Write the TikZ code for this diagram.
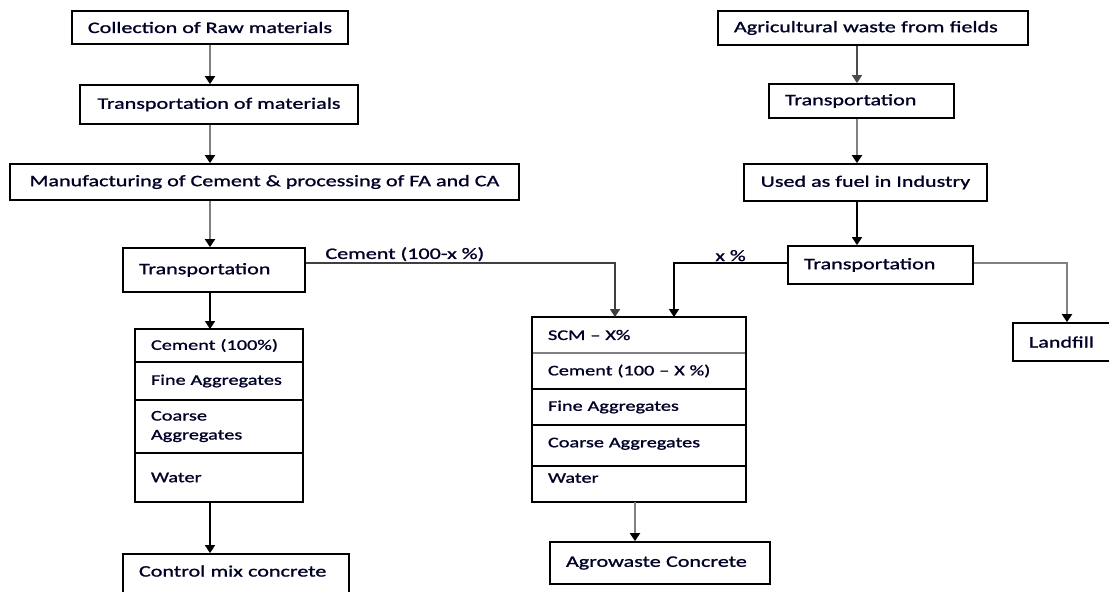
\documentclass[tikz,border=0pt]{standalone}
\usepackage{fontspec}
\setmainfont{Carlito}[FakeStretch=1.38, FakeBold=1.2]
\usetikzlibrary{arrows.meta,positioning}

\begin{document}
\begin{tikzpicture}[x=1pt, y=-1pt,
	box/.style={draw, line width=1.8pt, inner xsep=16pt, inner ysep=0pt, align=left, text=black!85!blue, font=\fontsize{16}{19}\selectfont},
	row/.style={box, outer sep=0pt, anchor=north, font=\fontsize{14.7}{19}\selectfont},
	arr/.style={line width=1.7pt, -{Triangle[width=10pt,length=8pt]}},
	garr/.style={arr, line width=2.2pt, draw=gray, -{Triangle[width=10pt,length=8pt,color=black]}},
	lbl/.style={font=\fontsize{16}{19}\selectfont, text=black!85!blue, inner sep=1pt}]
	\useasboundingbox (0,0) rectangle (1109,592);
	\clip (0,0) rectangle (1109,592);
	
	% Filiera del calcestruzzo di controllo
	\node[box, minimum width=276pt, minimum height=33pt] (raw) at (210,27.5) {Collection of Raw materials};
	\node[box, minimum width=278pt, minimum height=39pt] (tmat) at (219,104.5) {Transportation of materials};
	\node[box, minimum width=509pt, minimum height=36pt] (manuf) at (264.5,182) {Manufacturing of Cement \& processing of FA and CA};
	\node[box, text width=150pt, minimum height=44pt] (trL) at (214,270) {Transportation};
	
	% Miscela di controllo
	\node[row, text width=136pt, minimum height=33pt] (cemL) at (219,329) {Cement (100\%)};
	\node[row, text width=136pt, minimum height=38pt, below=0pt of cemL] (fineL) {Fine Aggregates};
	\node[row, text width=136pt, minimum height=53pt, below=0pt of fineL] (coarseL) {Coarse\\Aggregates};
	\node[row, text width=136pt, minimum height=49pt, below=0pt of coarseL] (waterL) {Water};
	\node[box, text width=194pt, minimum height=46pt, text depth=12pt] (ctrl) at (236,577) {Control mix concrete};
	
	% Miscela con scarti agricoli
	\node[row, text width=182pt, minimum height=36pt] (scm) at (639,317) {SCM -- X\%};
	\node[row, text width=182pt, minimum height=36pt, below=0pt of scm] (cemM) {Cement (100 -- X \%)};
	\node[row, text width=182pt, minimum height=36pt, below=0pt of cemM] (fineM) {Fine Aggregates};
	\node[row, text width=182pt, minimum height=41pt, below=0pt of fineM, text depth=6pt] (coarseM) {Coarse Aggregates};
	\node[row, text width=182pt, minimum height=36pt, below=0pt of coarseM, text depth=12pt] (waterM) {Water};
	\draw[gray, line width=1.8pt, shorten <=1pt, shorten >=1pt] (scm.south west) -- (scm.south east);
	\node[box, text width=188pt, minimum height=42pt] (agro) at (660,563) {Agrowaste Concrete};
	
	% Filiera degli scarti agricoli
	\coordinate (colR) at (857,0);
	\node[box, text width=278pt, minimum height=34pt] (agri) at (873,28) {Agricultural waste from fields};
	\node[box, text width=153pt, minimum height=34pt] (trR1) at (861.5,101) {Transportation};
	\node[box, minimum width=243pt, minimum height=37pt] (fuel) at (865.5,182.5) {Used as fuel in Industry};
	\node[box, text width=153pt, minimum height=38pt] (trR2) at (880.5,265) {Transportation};
	\node[box, text width=98pt, minimum height=38pt] (land) at (1078,342) {Landfill};
	
	% Frecce colonna sinistra
	\draw[garr] (raw.south) -- (tmat.north -| raw.south);
	\draw[garr] (tmat.south -| raw.south) -- (manuf.north -| raw.south);
	\draw[garr] (manuf.south -| raw.south) -- (trL.north -| raw.south);
	\draw[arr] (trL.south -| raw.south) -- (cemL.north -| raw.south);
	\draw[arr] (waterL.south -| raw.south) -- (ctrl.north -| raw.south);
	
	% Frecce colonna destra
	\draw[arr, draw=black!70] (colR |- agri.south) -- (colR |- trR1.north);
	\draw[garr] (colR |- trR1.south) -- (colR |- fuel.north);
	\draw[arr] (colR |- fuel.south) -- (colR |- trR2.north);
	
	% Flussi verso la miscela
	\draw[arr, draw=black!75] ([yshift=7pt]trL.east) -| ([xshift=-24pt]scm.north) node[lbl, above, pos=0.16] {Cement (100-x \%)};
	\draw[arr] ([yshift=2pt]trR2.west) -| ([xshift=35pt]scm.north) node[lbl, above, pos=0.25] {x \%};
	\draw[garr] ([yshift=2pt]trR2.east) -| ([xshift=-11pt]land.north);
	\draw[garr] ([xshift=-4pt]waterM.south) -- ([xshift=-4pt]waterM.south |- agro.north);
\end{tikzpicture}
\end{document}
